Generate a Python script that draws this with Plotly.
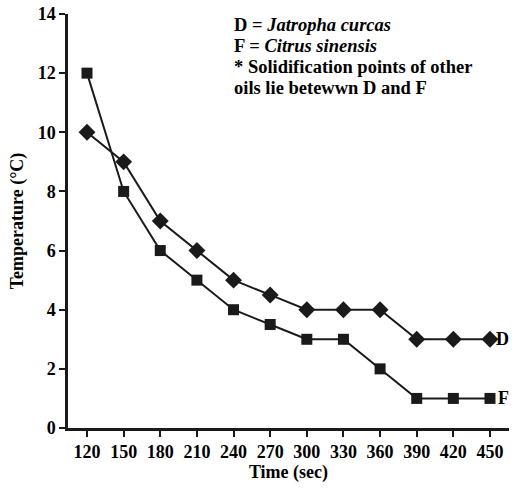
import plotly.graph_objects as go

time_sec = [120, 150, 180, 210, 240, 270, 300, 330, 360, 390, 420, 450]
d_jatropha = [10, 9, 7, 6, 5, 4.5, 4, 4, 4, 3, 3, 3]
f_citrus = [12, 8, 6, 5, 4, 3.5, 3, 3, 2, 1, 1, 1]
y_ticks = [0, 2, 4, 6, 8, 10, 12, 14]
note_lines = [
    "D = <i>Jatropha curcas</i>",
    "F = <i>Citrus sinensis</i>",
    "* Solidification points of other",
    "oils lie betewwn D and F",
]

FONT = "Liberation Serif, Times New Roman, serif"
INK = "#1a1a1a"
L, R, T, B = 68, 5, 14, 64
W, H = 514, 492
PW, PH = W - L - R, H - T - B

fig = go.Figure()
fig.add_trace(go.Scatter(x=time_sec, y=d_jatropha, mode="lines+markers",
                         line=dict(color=INK, width=2),
                         marker=dict(symbol="diamond", size=13, color=INK),
                         cliponaxis=False, showlegend=False))
fig.add_trace(go.Scatter(x=time_sec, y=f_citrus, mode="lines+markers",
                         line=dict(color=INK, width=2),
                         marker=dict(symbol="square", size=11, color=INK),
                         cliponaxis=False, showlegend=False))

fig.add_annotation(x=time_sec[-1], y=d_jatropha[-1], text="<b>D</b>", showarrow=False,
                   xanchor="left", xshift=4, font=dict(family=FONT, size=18, color="black"))
fig.add_annotation(x=time_sec[-1], y=f_citrus[-1], text="<b>F</b>", showarrow=False,
                   xanchor="left", xshift=6, font=dict(family=FONT, size=18, color="black"))

line_px = [25, 46, 67, 88]
for txt, py in zip(note_lines, line_px):
    fig.add_annotation(xref="paper", yref="paper", x=(232 - L) / PW, y=(H - B - py) / PH,
                       xanchor="left", yanchor="middle", align="left", showarrow=False,
                       text="<b>" + txt + "</b>",
                       font=dict(family=FONT, size=18.5, color="black"))

fig.update_layout(
    width=W, height=H,
    margin=dict(l=L, r=R, t=T, b=B, autoexpand=False),
    paper_bgcolor="white", plot_bgcolor="white",
    font=dict(family=FONT, size=18, color="black"),
    xaxis=dict(range=[104.44, 465.57], tickvals=time_sec,
               ticktext=["<b>%d</b>" % v for v in time_sec],
               showgrid=False, zeroline=False, automargin=False,
               showline=True, linecolor=INK, linewidth=2.5, ticks="outside", ticklen=6,
               tickwidth=2, tickcolor=INK, tickfont=dict(family=FONT, size=18),
               title=dict(text="<b>Time (sec)</b>", font=dict(family=FONT, size=18), standoff=2)),
    yaxis=dict(range=[0, 14], tickvals=y_ticks,
               ticktext=["<b>%d</b>" % v for v in y_ticks],
               showgrid=False, zeroline=False, automargin=False,
               showline=True, linecolor=INK, linewidth=2.5, ticks="outside", ticklen=6,
               tickwidth=2, tickcolor=INK, tickfont=dict(family=FONT, size=18),
               title=dict(text="<b>Temperature (°C)</b>", font=dict(family=FONT, size=18), standoff=10)),
)

fig.write_html("out.html", config={"displayModeBar": False},
               post_script="document.body.style.margin='0';document.body.style.padding='0';")
